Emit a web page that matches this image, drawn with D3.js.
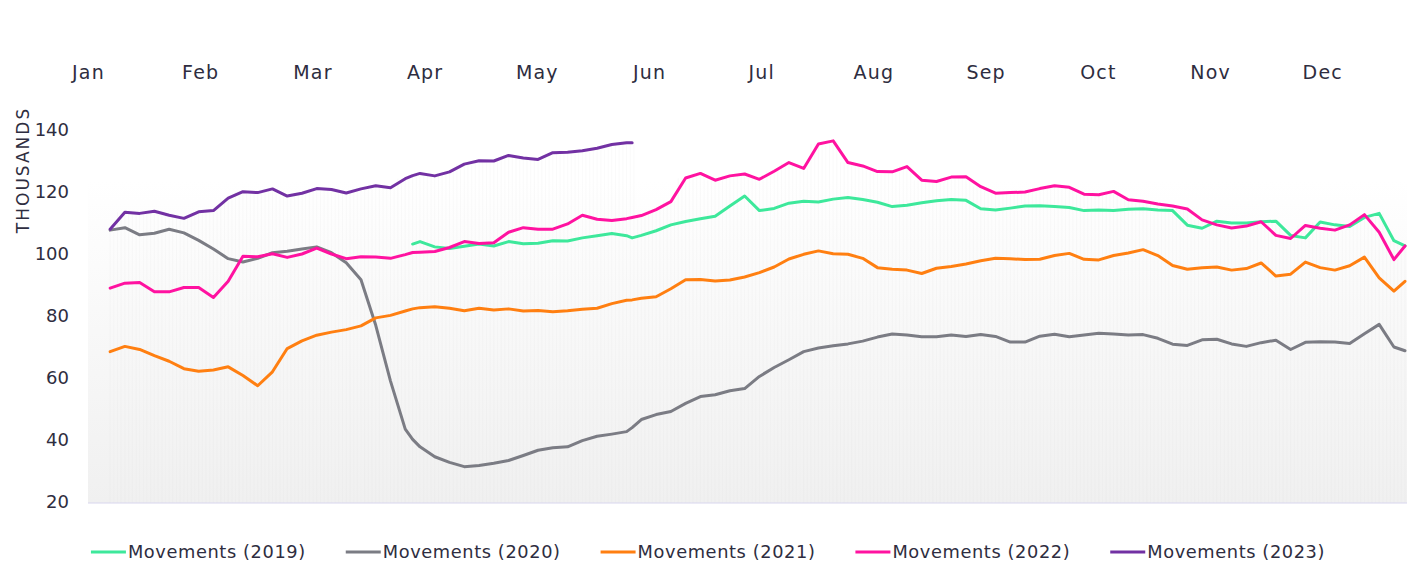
<!DOCTYPE html>
<html>
<head>
<meta charset="utf-8">
<script src="https://cdn.jsdelivr.net/npm/d3@7"></script>
<style>
    body { margin: 0; background: #fff; }
    text { font-family: "DejaVu Sans", sans-serif; fill: #2e2d40; }
</style>
</head>
<body>
<svg id="chart" width="1407" height="564"></svg>
<script>
// day of year for each sample (7-day averages start on day 6)
const days = [6, 10, 14, 18, 22, 26, 30, 34, 38, 42, 46, 50, 54, 58, 62, 66, 70, 74, 78, 82, 86, 88,
    90, 94, 98, 102, 106, 110, 114, 118, 122, 126, 130, 134, 138, 142, 146, 147.5,
    150, 154, 158, 162, 166, 170, 174, 178, 182, 186, 190, 194, 198, 202, 206, 210, 214, 218, 222, 226,
    230, 234, 238, 242, 246, 250, 254, 258, 262, 266, 270, 274, 278, 282, 286, 290, 294, 298, 302, 306,
    310, 314, 318, 322, 326, 330, 334, 338, 342, 346, 350, 354, 357];

const monthLabels = ["Jan", "Feb", "Mar", "Apr", "May", "Jun", "Jul", "Aug", "Sep", "Oct", "Nov", "Dec"];
const yTicks = [20, 40, 60, 80, 100, 120, 140];

const seriesNames = ["Movements (2019)", "Movements (2020)", "Movements (2021)", "Movements (2022)", "Movements (2023)"];
const seriesColors = ["#3de89b", "#7b7c84", "#ff7f11", "#ff12a0", "#7231a3"];

// thousands of movements
const movements2019 = [null, null, null, null, null, null, null, null, null, null,
    null, null, null, null, null, null, null, null, null, null, null,
    103.2, 104, 102.3, 101.8, 102.5, 103.2, 102.6, 104, 103.3, 103.5,
    104.3, 104.2, 105.2, 105.9, 106.6, 105.9, 105.2, 106, 107.5, 109.4,
    110.5, 111.4, 112.2, 115.5, 118.7, 114, 114.7, 116.4, 117, 116.8,
    117.7, 118.2, 117.6, 116.7, 115.3, 115.7, 116.5, 117.2, 117.6, 117.3,
    114.6, 114.2, 114.8, 115.5, 115.6, 115.3, 115, 114, 114.2, 114,
    114.4, 114.6, 114.2, 114, 109.3, 108.3, 110.6, 110, 110, 110.4,
    110.6, 106, 105.2, 110.3, 109.4, 108.9, 111.8, 113.1, 104.3, 102.6];

const movements2020 = [107.7, 108.5, 106.2, 106.7, 108, 106.8, 104.4, 101.6, 98.5, 97.4,
    98.6, 100.4, 100.9, 101.6, 102.3, 100.4, 97.2, 91.7, 77, 59,
    43.5, 40.2, 37.8, 34.6, 32.8, 31.4, 31.8, 32.5, 33.4, 35,
    36.7, 37.5, 37.8, 39.8, 41.2, 41.9, 42.7, 44, 46.6, 48.2,
    49.2, 51.8, 54, 54.6, 55.9, 56.6, 60.5, 63.4, 65.9, 68.5,
    69.7, 70.4, 71, 71.9, 73.2, 74.2, 73.9, 73.3, 73.3, 73.9,
    73.4, 74, 73.4, 71.6, 71.6, 73.5, 74.1, 73.3, 73.9, 74.4,
    74.2, 73.9, 74, 72.8, 70.9, 70.5, 72.3, 72.5, 71, 70.2,
    71.4, 72.2, 69.2, 71.5, 71.7, 71.6, 71.1, 74.3, 77.3, 70,
    68.8];

const movements2021 = [68.5, 70.2, 69.2, 67.2, 65.4, 63, 62.2, 62.6, 63.6, 60.8,
    57.5, 62, 69.5, 72, 73.8, 74.8, 75.6, 76.8, 79.4, 80.2,
    81.6, 82.3, 82.7, 83, 82.5, 81.7, 82.5, 81.9, 82.3, 81.6,
    81.8, 81.4, 81.7, 82.2, 82.5, 84, 85.1, 85.2, 85.7, 86.2,
    88.8, 91.7, 91.8, 91.3, 91.6, 92.6, 94, 95.8, 98.4, 99.9,
    101, 100.1, 99.9, 98.6, 95.6, 95.1, 94.8, 93.7, 95.4, 96,
    96.8, 97.8, 98.6, 98.5, 98.2, 98.3, 99.5, 100.2, 98.3, 98.1,
    99.5, 100.3, 101.4, 99.5, 96.3, 95.1, 95.6, 95.8, 94.8, 95.3,
    97.1, 92.9, 93.5, 97.4, 95.6, 94.8, 96.2, 99, 92.3, 88,
    91.2];

const movements2022 = [89, 90.6, 90.8, 87.8, 87.8, 89.2, 89.2, 86, 91.2, 99.3,
    99.1, 100.1, 98.9, 100, 101.9, 100, 98.5, 99.1, 99, 98.6,
    99.8, 100.5, 100.6, 100.8, 102.1, 104, 103.4, 103.6, 107, 108.5,
    108, 108, 109.7, 112.5, 111.2, 110.8, 111.4, 111.8, 112.4, 114.3,
    116.9, 124.5, 126, 123.8, 125.2, 125.8, 124.1, 126.7, 129.5, 127.6,
    135.5, 136.5, 129.5, 128.4, 126.6, 126.5, 128.2, 123.8, 123.4, 124.8,
    124.9, 121.7, 119.6, 119.8, 120, 121.1, 122, 121.5, 119.3, 119.1,
    120.2, 117.5, 117, 116.1, 115.5, 114.5, 111, 109.4, 108.4, 109,
    110.4, 106, 105, 109.2, 108.3, 107.7, 109.4, 112.7, 107, 98.2,
    102.6];

const movements2023 = [108, 113.5, 113.1, 113.8, 112.5, 111.5, 113.6, 114, 118, 120.1,
    119.8, 121, 118.7, 119.6, 121.1, 120.8, 119.7, 121, 122, 121.4,
    124.3, 125.3, 126, 125.2, 126.5, 129, 130.1, 130, 131.8, 131,
    130.5, 132.7, 132.8, 133.3, 134.1, 135.3, 135.9, 135.9];

const allSeries = [movements2019, movements2020, movements2021, movements2022, movements2023];

const svg = d3.select("#chart");
const plotLeft = 88, plotRight = 1407, plotBottom = 503;

const x = d3.scaleLinear().domain([0, 357]).range([88, 1405]);
const y = d3.scaleLinear().domain([20, 140]).range([502, 130]);
// months are shown evenly spaced
const monthScale = d3.scaleLinear().domain([0, 12]).range([x(0), x(365)]);

// plot background gradient
const defs = svg.append("defs");
const grad = defs.append("linearGradient")
    .attr("id", "plotFill")
    .attr("gradientUnits", "userSpaceOnUse")
    .attr("x1", 0).attr("x2", 0).attr("y1", 180).attr("y2", plotBottom);
grad.append("stop").attr("offset", "0%").attr("stop-color", "#ffffff");
grad.append("stop").attr("offset", "100%").attr("stop-color", "#f0f0f0");

svg.append("rect")
    .attr("x", plotLeft).attr("y", 180)
    .attr("width", plotRight - plotLeft).attr("height", plotBottom - 180)
    .attr("fill", "url(#plotFill)");

// faint drop lines, one per day, from the highest series down to the axis
const bisect = d3.bisector(d => d).center;
const dropDays = d3.range(6, 358);
svg.append("g")
    .selectAll("line")
    .data(dropDays)
    .join("line")
    .attr("x1", d => x(d)).attr("x2", d => x(d))
    .attr("y1", d => {
        let i = bisect(days, d);
        let top = d3.max(allSeries, s => s[i] == null ? undefined : s[i]);
        return y(top);
    })
    .attr("y2", plotBottom)
    .attr("stroke", "#dcdcdc")
    .attr("stroke-opacity", 0.2)
    .attr("stroke-width", 0.8);

// bottom axis line
svg.append("line")
    .attr("x1", plotLeft).attr("x2", plotRight)
    .attr("y1", plotBottom).attr("y2", plotBottom)
    .attr("stroke", "#d8d6ee").attr("stroke-width", 1);

// month labels on top
const monthAxis = svg.append("g")
    .attr("transform", "translate(0,87)")
    .call(d3.axisTop(monthScale)
        .tickValues(d3.range(12))
        .tickFormat(i => monthLabels[i])
        .tickSize(0)
        .tickPadding(8));
monthAxis.select(".domain").remove();
monthAxis.selectAll("text")
    .attr("font-size", 19)
    .attr("letter-spacing", 1.2)
    .attr("fill", "#2e2d40");

// y axis
const yAxis = svg.append("g")
    .attr("transform", `translate(${plotLeft},0)`)
    .call(d3.axisLeft(y).tickValues(yTicks).tickSize(0).tickPadding(19));
yAxis.select(".domain").remove();
yAxis.selectAll("text")
    .attr("font-size", 18)
    .attr("fill", "#2e2d40");

svg.append("text")
    .attr("transform", "translate(29,170) rotate(-90)")
    .attr("text-anchor", "middle")
    .attr("font-size", 17)
    .attr("letter-spacing", 2)
    .text("THOUSANDS");

// lines
const line = d3.line()
    .defined(d => d[1] != null)
    .x(d => x(d[0]))
    .y(d => y(d[1]));

allSeries.forEach((values, k) => {
    svg.append("path")
        .datum(days.map((d, i) => [d, values[i] === undefined ? null : values[i]]))
        .attr("fill", "none")
        .attr("stroke", seriesColors[k])
        .attr("stroke-width", 3)
        .attr("stroke-linejoin", "round")
        .attr("stroke-linecap", "round")
        .attr("d", line);
});

// legend, centred under the plot
const legend = svg.append("g");
let cursor = 0;
seriesNames.forEach((name, k) => {
    let item = legend.append("g").attr("transform", `translate(${cursor},0)`);
    item.append("line")
        .attr("x1", 0).attr("x2", 35)
        .attr("y1", 552).attr("y2", 552)
        .attr("stroke", seriesColors[k]).attr("stroke-width", 3);
    let t = item.append("text")
        .attr("x", 37).attr("y", 558)
        .attr("font-size", 17.8)
        .attr("letter-spacing", 0.6)
        .text(name);
    cursor += 37 + t.node().getComputedTextLength() + 40;
});
cursor -= 40;
legend.attr("transform", `translate(${708 - cursor / 2},0)`);
</script>
</body>
</html>
